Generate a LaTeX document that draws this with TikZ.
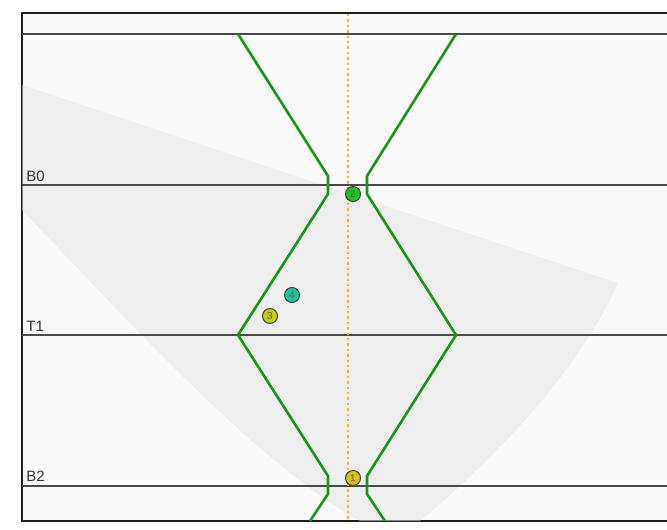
\documentclass[tikz,border=0pt]{standalone}
\usepackage{fontspec}
\setmainfont{Liberation Sans}
\definecolor{bgpanel}{HTML}{FAFAFA}
\definecolor{wedgegrey}{HTML}{E4E4E4}
\definecolor{rulegrey}{HTML}{4A4A4A}
\definecolor{framedark}{HTML}{1E1E1E}
\definecolor{pathgreen}{RGB}{22,150,22}
\definecolor{axisorange}{HTML}{FFB020}
\definecolor{ctwo}{HTML}{1FC21F}
\definecolor{cfour}{HTML}{1FC59A}
\definecolor{cthree}{HTML}{C4CF0A}
\definecolor{cone}{HTML}{D8C214}
\tikzset{
  rowline/.style={draw=rulegrey, line width=1.1pt},
  frameline/.style={draw=framedark, line width=1.1pt},
  track/.style={draw=pathgreen, line width=1.3pt, line join=miter},
  rowlabel/.style={anchor=base west, inner sep=0pt, text=black!80, font=\fontsize{7.5}{8}\selectfont},
  marker/.style={circle, draw=black!75, line width=0.5pt, minimum size=7.5pt, inner sep=0pt, font=\fontsize{5}{5}\selectfont, text=black!65},
}
\begin{document}
\begin{tikzpicture}[x=0.5pt,y=-0.5pt]
\useasboundingbox (0,0) rectangle (667,529);
% panel
\fill[bgpanel] (22,13) rectangle (667,521);
\draw[frameline] (667,13) -- (22,13) -- (22,521) -- (667,521);
% wedge
\begin{scope}
\clip (22,13) rectangle (667,521);
\fill[wedgegrey, opacity=0.5] (22,85) -- (618,283)
  .. controls (575,378) and (490,462) .. (420,521)
  -- (360,521)
  .. controls (250,460) and (100,290) .. (20,208) -- cycle;
\end{scope}
% row lines
\coordinate (l0) at (22,34);  \coordinate (r0) at (667,34);
\coordinate (l1) at (22,185); \coordinate (r1) at (667,185);
\coordinate (l2) at (22,335); \coordinate (r2) at (667,335);
\coordinate (l3) at (22,486); \coordinate (r3) at (667,486);
\draw[rowline] (l0) -- (r0);
\draw[rowline] (l1) -- (r1);
\draw[rowline] (l2) -- (r2);
\draw[rowline] (l3) -- (r3);
\node[rowlabel] (lb0) at (26,181) {B0};
\node[rowlabel] (lt1) at (26,331) {T1};
\node[rowlabel] (lb2) at (26,481) {B2};
% axis
\coordinate (axtop) at (348,14);
\coordinate (axbot) at (348,521);
\draw[axisorange, line width=1.3pt, dash pattern=on 1.2pt off 1.5pt] (axtop) -- (axbot);
% green tracks
\coordinate (ga) at (238,34);  \coordinate (gb) at (328,176); \coordinate (gc) at (328,194);
\coordinate (gd) at (238,335); \coordinate (ge) at (328,476); \coordinate (gf) at (328,494);
\coordinate (gg) at (310,521);
\coordinate (ha) at (456,34);  \coordinate (hb) at (367,176); \coordinate (hc) at (367,194);
\coordinate (hd) at (456,335); \coordinate (he) at (367,476); \coordinate (hf) at (367,494);
\coordinate (hg) at (385,521);
\draw[track] (ga) -- (gb) -- (gc) -- (gd) -- (ge) -- (gf) -- (gg);
\draw[track] (ha) -- (hb) -- (hc) -- (hd) -- (he) -- (hf) -- (hg);
% markers
\node[marker, fill=ctwo] (m2) at (353,194) {2};
\node[marker, fill=cfour] (m4) at (292,295) {4};
\node[marker, fill=cthree] (m3) at (270,316) {3};
\node[marker, fill=cone] (m1) at (353,478) {1};
\end{tikzpicture}
\end{document}
